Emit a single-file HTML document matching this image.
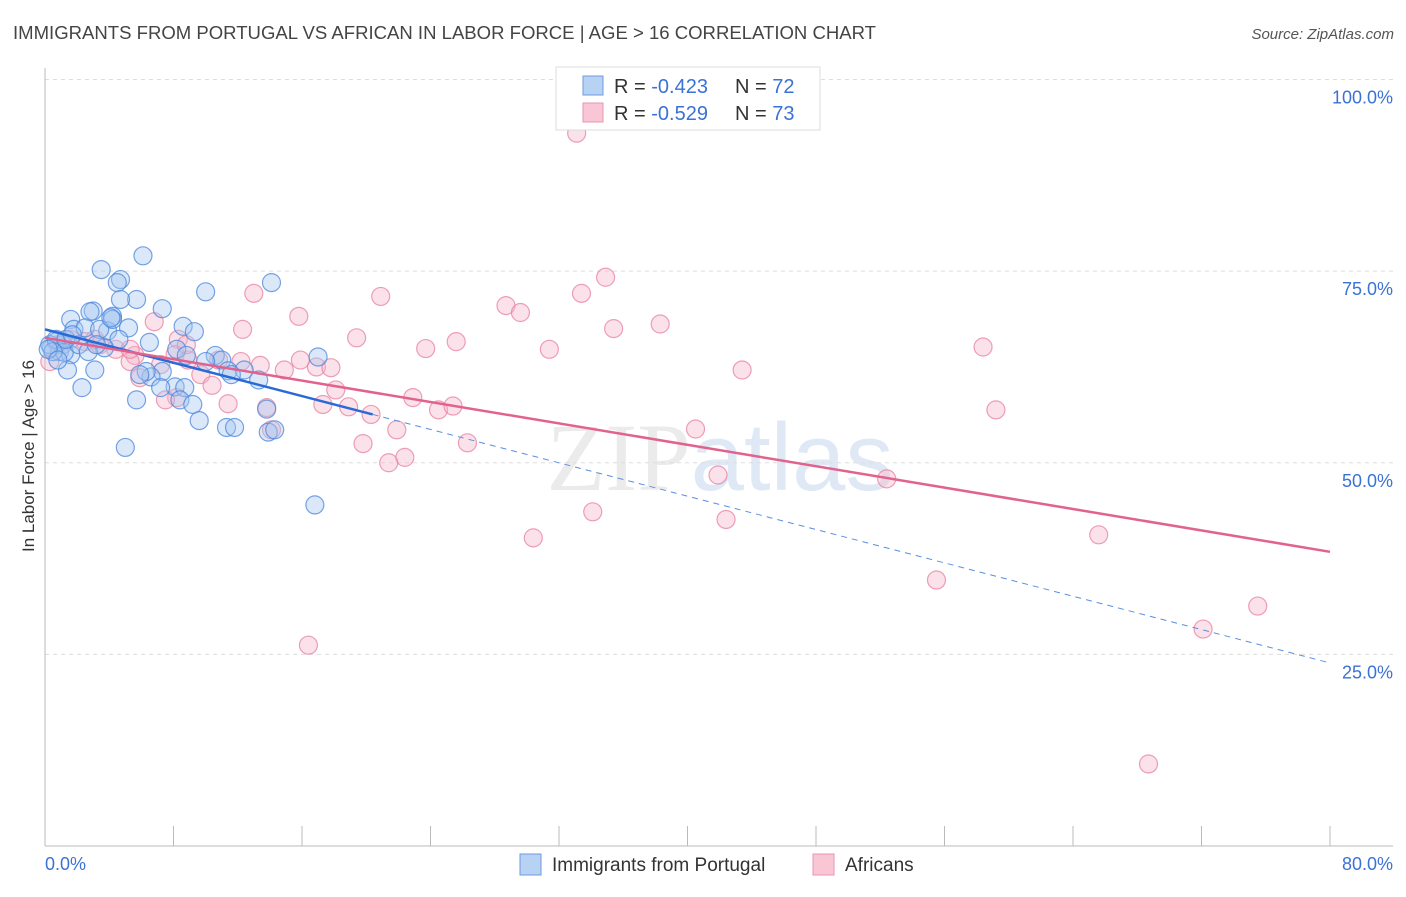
<!DOCTYPE html>
<html><head><meta charset="utf-8"><style>
body{margin:0;background:#fff;font-family:"Liberation Sans",sans-serif}
</style></head><body>
<svg id="chart" width="1406" height="892" xmlns="http://www.w3.org/2000/svg" font-family="Liberation Sans, sans-serif">
<text x="13" y="39" font-size="18" fill="#444" textLength="863" lengthAdjust="spacingAndGlyphs">IMMIGRANTS FROM PORTUGAL VS AFRICAN IN LABOR FORCE | AGE &gt; 16 CORRELATION CHART</text>
<text x="1394" y="39" font-size="15" fill="#555" text-anchor="end" font-style="italic">Source: ZipAtlas.com</text>
<text x="720" y="490" font-size="96" fill="#ebebeb" text-anchor="middle" font-family="Liberation Serif, serif">ZIP<tspan fill="#dfe9f6" font-family="Liberation Sans, sans-serif">atlas</tspan></text>
<g id="grid"></g>
<g id="axes"></g>
<g id="marks"></g>
<text transform="translate(34,456) rotate(-90)" font-size="17" fill="#333" text-anchor="middle">In Labor Force | Age &gt; 16</text>
<g>
<rect x="556" y="67" width="264" height="63" fill="#fff" stroke="#ddd"/>
<rect x="583" y="76" width="20" height="19" fill="#b8d2f4" stroke="#6d9be0"/>
<rect x="583" y="103" width="20" height="19" fill="#f9c6d6" stroke="#ea93b1"/>
<text x="614" y="93" font-size="20" fill="#333">R = <tspan fill="#3a72d6">-0.423</tspan>   <tspan x="735">N = </tspan><tspan fill="#3a72d6">72</tspan></text>
<text x="614" y="120" font-size="20" fill="#333">R = <tspan fill="#3a72d6">-0.529</tspan>   <tspan x="735">N = </tspan><tspan fill="#3a72d6">73</tspan></text>
</g>
<g>
<rect x="520" y="854" width="21" height="21" fill="#b8d2f4" stroke="#6d9be0"/>
<text x="552" y="871" font-size="19" fill="#333">Immigrants from Portugal</text>
<rect x="813" y="854" width="21" height="21" fill="#f9c6d6" stroke="#ea93b1"/>
<text x="845" y="871" font-size="19" fill="#333">Africans</text>
</g>
</svg>
<script>
const yTicks=[100,75,50,25];
const yTickLabels=["100.0%","75.0%","50.0%","25.0%"];
const xTicks=[8,16,24,32,40,48,56,64,72,80];
const blueX=[6.1,3.5,4.7,4.5,10.0,14.1,5.7,7.3,3.0,1.6,2.8,4.2,5.2,8.6,9.3,1.8,2.5,3.9,6.5,4.6,0.7,1.1,0.4,0.9,1.6,3.7,8.2,8.8,10.6,11.0,3.1,1.4,2.3,5.7,5.0,17.0,7.3,6.6,8.1,7.2,8.7,8.4,9.2,9.6,11.4,12.4,13.3,11.3,11.8,13.8,13.9,14.3,16.8,0.3,0.7,1.2,0.5,4.2,2.1,3.4,6.3,4.1,1.3,0.2,1.7,2.7,0.8,3.2,5.9,10.0,11.6,4.7];
const blueY=[77.0,75.2,73.9,73.5,72.3,73.5,71.3,70.1,69.8,68.7,69.7,69.1,67.6,67.8,67.1,67.4,67.6,67.2,65.7,66.1,65.8,65.4,65.0,64.5,64.1,65.0,64.8,64.0,64.0,63.4,62.1,62.1,59.8,58.2,52.0,63.8,61.9,61.2,59.9,59.8,59.8,58.2,57.6,55.5,62.0,62.1,60.8,54.6,54.6,57.0,54.0,54.3,44.5,65.4,66.1,64.4,64.5,68.7,65.4,67.4,61.9,68.9,66.1,64.8,66.7,64.5,63.4,65.4,61.5,63.2,61.5,71.3];
const pinkX=[33.1,34.9,13.0,20.9,28.7,29.6,33.4,15.8,35.4,38.3,6.8,12.3,19.4,25.6,23.7,31.4,58.4,8.3,3.4,4.4,5.6,5.3,8.1,8.9,10.8,13.4,14.9,16.9,17.8,5.9,9.7,10.4,18.1,22.9,43.4,8.2,11.4,13.8,17.3,18.9,20.3,24.5,25.4,59.2,21.9,26.3,19.8,22.4,21.4,40.5,41.9,52.4,34.1,42.4,30.4,65.6,55.5,75.5,72.1,16.4,68.7,0.3,0.8,1.6,2.5,3.1,5.3,7.2,12.2,14.1,15.9,7.5,8.8];
const pinkY=[93.0,74.2,72.1,71.7,70.5,69.6,72.1,69.1,67.5,68.1,68.4,67.4,66.3,65.8,64.9,64.8,65.1,66.1,65.4,64.8,64.0,63.2,64.1,63.4,63.4,62.7,62.1,62.5,62.4,61.1,61.5,60.1,59.5,58.5,62.1,58.5,57.7,57.2,57.6,57.3,56.3,56.9,57.4,56.9,54.3,52.6,52.5,50.7,50.0,54.4,48.4,47.9,43.6,42.6,40.2,40.6,34.7,31.3,28.3,26.2,10.7,63.2,65.4,66.1,65.8,66.1,64.8,62.8,63.2,54.3,63.4,58.2,65.4];
const blueTrend=[67.4,-0.544,20.4];
const pinkTrend=[66.3,-0.349];
const NS="http://www.w3.org/2000/svg";
const X0=45,X1=1330,YB=846,YT=79.5;
function sx(v){return X0+(X1-X0)*v/80;}
function sy(v){return YB-(YB-YT)*v/100;}
function mk(tag,attrs,parent){const e=document.createElementNS(NS,tag);for(const k in attrs)e.setAttribute(k,attrs[k]);parent.appendChild(e);return e;}
const grid=document.getElementById('grid'),axes=document.getElementById('axes'),marks=document.getElementById('marks');
yTicks.forEach((t,i)=>{
  const l=mk('line',{x1:X0,x2:1393,y1:sy(t),y2:sy(t),stroke:'#ddd','stroke-dasharray':'4,4'},grid);
  
  
  const tx=mk('text',{x:1393,y:sy(t)+24,'font-size':18,fill:'#3a72d6','text-anchor':'end'},axes);
  tx.textContent=yTickLabels[i];
  
  
});
const la=mk('line',{x1:X0,x2:X0,y1:68,y2:YB,stroke:'#bbb'},axes);


const ba=mk('line',{x1:X0,x2:1393,y1:YB,y2:YB,stroke:'#bbb'},axes);


xTicks.forEach(t=>{
  const l=mk('line',{x1:sx(t),x2:sx(t),y1:826,y2:YB,stroke:'#bbb'},axes);
  
  
});
const xl0=mk('text',{x:45,y:870,'font-size':18,fill:'#3a72d6'},axes);xl0.textContent='0.0%';


const xl1=mk('text',{x:1393,y:870,'font-size':18,fill:'#3a72d6','text-anchor':'end'},axes);xl1.textContent='80.0%';


function dots(xs,ys,fill,stroke,name){xs.forEach((x,i)=>{
  const c=mk('circle',{cx:sx(x),cy:sy(ys[i]),r:9,fill:fill,'fill-opacity':0.4,stroke:stroke,'stroke-opacity':0.75,'stroke-width':1.2},marks);
  
  
});}
dots(pinkX,pinkY,'#f6b3c8','#e8809f','africans-point');
dots(blueX,blueY,'#a6c6f0','#4a86dc','portugal-point');
const bs=mk('line',{x1:sx(0),y1:sy(blueTrend[0]),x2:sx(blueTrend[2]),y2:sy(blueTrend[0]+blueTrend[1]*blueTrend[2]),stroke:'#2a6ad6','stroke-width':2.5},marks);


const bd=mk('line',{x1:sx(blueTrend[2]),y1:sy(blueTrend[0]+blueTrend[1]*blueTrend[2]),x2:sx(80),y2:sy(blueTrend[0]+blueTrend[1]*80),stroke:'#5a8fe0','stroke-width':1,'stroke-dasharray':'6,5'},marks);


const pl=mk('line',{x1:sx(0),y1:sy(pinkTrend[0]),x2:sx(80),y2:sy(pinkTrend[0]+pinkTrend[1]*80),stroke:'#e2628e','stroke-width':2.5},marks);


</script>
</body></html>
